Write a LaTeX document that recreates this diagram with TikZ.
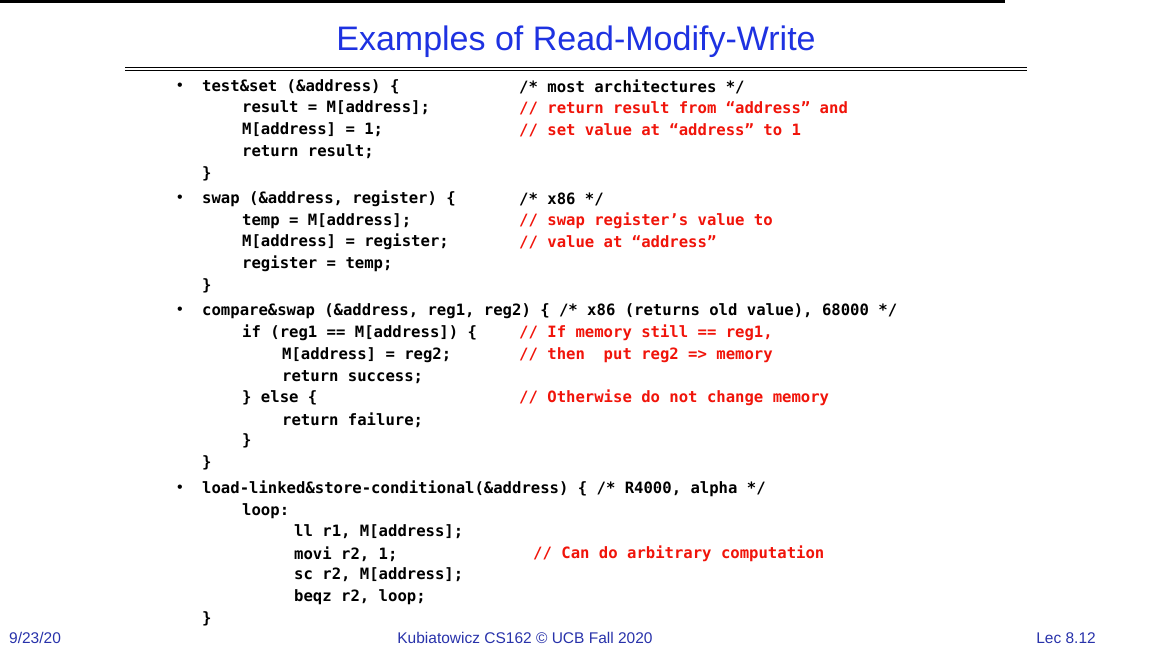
\documentclass[tikz,border=0pt]{standalone}
\usepackage{fontspec}
\setmainfont{Liberation Sans}
\newfontfamily\cf{DejaVu Sans Mono}
\definecolor{ttl}{RGB}{30,50,225}
\definecolor{cmt}{RGB}{240,20,10}
\definecolor{ftr}{RGB}{40,50,170}
\begin{document}
\begin{tikzpicture}[x=1pt,y=1pt,
  c/.style={anchor=west,inner sep=0pt,font=\cf\bfseries\fontsize{15.6}{18}\selectfont},
  r/.style={c,text=cmt},
  bul/.style={anchor=center,inner sep=0pt,font=\fontsize{16}{18}\selectfont},
  ft/.style={inner sep=0pt,font=\fontsize{15.5}{18}\selectfont,text=ftr}]
\useasboundingbox (0,0) rectangle (1152,-652);
\fill[black] (0,0) rectangle (1005,-3);
\node[inner sep=0pt,text=ttl,font=\fontsize{34}{40}\selectfont] (title) at (576,-42) {Examples of Read-Modify-Write};
\draw[line width=1.2pt] (125,-67.5) -- (1027,-67.5);
\draw[line width=0.6pt] (125,-70.5) -- (1027,-70.5);
% bullets
\foreach \y/\n in {87/b1,199/b2,311/b3,489/b4}{\node[bul] (\n) at (180,-\y) {•};}
% block 1
\node[c] (a1) at (202,-87) {test\&set (\&address) \{};
\node[c] (a1c) at (519,-87) {/* most architectures */};
\node[c] (a2) at (242,-108) {result = M[address];};
\node[r] (a2c) at (519,-108) {// return result from “address” and};
\node[c] (a3) at (242,-130) {M[address] = 1;};
\node[r] (a3c) at (519,-130) {// set value at “address” to 1};
\node[c] (a4) at (242,-152) {return result;};
\node[c] (a5) at (202,-174) {\}};
% block 2
\node[c] (s1) at (202,-199) {swap (\&address, register) \{};
\node[c] (s1c) at (519,-199) {/* x86 */};
\node[c] (s2) at (242,-221) {temp = M[address];};
\node[r] (s2c) at (519,-221) {// swap register’s value to};
\node[c] (s3) at (242,-242) {M[address] = register;};
\node[r] (s3c) at (519,-242) {// value at “address”};
\node[c] (s4) at (242,-264) {register = temp;};
\node[c] (s5) at (202,-286) {\}};
% block 3
\node[c] (k1) at (202,-311) {compare\&swap (\&address, reg1, reg2) \{ /* x86 (returns old value), 68000 */};
\node[c] (k2) at (242,-333) {if (reg1 == M[address]) \{};
\node[r] (k2c) at (519,-333) {// If memory still == reg1,};
\node[c] (k3) at (282,-355) {M[address] = reg2;};
\node[r] (k3c) at (519,-355) {// then\ \ put reg2 => memory};
\node[c] (k4) at (282,-377) {return success;};
\node[c] (k5) at (242,-398) {\} else \{};
\node[r] (k5c) at (519,-398) {// Otherwise do not change memory};
\node[c] (k6) at (282,-420) {return failure;};
\node[c] (k7) at (242,-441) {\}};
\node[c] (k8) at (202,-463) {\}};
% block 4
\node[c] (l1) at (202,-489) {load-linked\&store-conditional(\&address) \{ /* R4000, alpha */};
\node[c] (l2) at (242,-511) {loop:};
\node[c] (l3) at (294,-532) {ll r1, M[address];};
\node[c] (l4) at (294,-554) {movi r2, 1;};
\node[r] (l4c) at (533,-554) {// Can do arbitrary computation};
\node[c] (l5) at (294,-575) {sc r2, M[address];};
\node[c] (l6) at (294,-597) {beqz r2, loop;};
\node[c] (l7) at (202,-619) {\}};
% footer
\node[ft,anchor=west] (f1) at (9,-638) {9/23/20};
\node[ft] (f2) at (525,-638) {Kubiatowicz CS162 © UCB Fall 2020};
\node[ft,anchor=east] (f3) at (1096,-638) {Lec 8.12};
\end{tikzpicture}
\end{document}
